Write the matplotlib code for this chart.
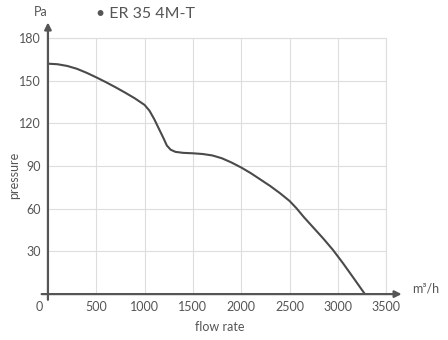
import matplotlib.pyplot as plt

plt.rcParams['font.family'] = ['Lato', 'DejaVu Sans']

flow = [0, 100, 200, 300, 400, 500, 600, 700, 800, 900, 1000, 1050, 1100,
        1150, 1200, 1230, 1270, 1320, 1400, 1500, 1600, 1700, 1800, 1900,
        2000, 2100, 2200, 2300, 2400, 2500, 2570, 2650, 2750, 2850, 2950,
        3050, 3150, 3280]
pressure = [162, 161.6, 160.4, 158.4, 155.6, 152.4, 149, 145.4, 141.6, 137.6,
            133, 129, 123, 116, 109, 104.5, 101.5, 100, 99.3, 99, 98.5, 97.5,
            95.5, 92.5, 89, 85, 80.5, 76, 71, 65.5, 60.5, 54, 46.5, 39, 31,
            22, 12.5, 0]
xticks = [0, 500, 1000, 1500, 2000, 2500, 3000, 3500]
xlabels = ['', '500', '1000', '1500', '2000', '2500', '3000', '3500']
yticks = [30, 60, 90, 120, 150, 180]

fig = plt.figure(figsize=(4.48, 3.4), dpi=100)
ax = fig.add_axes([0.107, 0.135, 0.755, 0.753])

grey = '#555555'
ax.plot(flow, pressure, color='#4a4a4a', lw=1.5, solid_capstyle='round',
        solid_joinstyle='round')

ax.set_xlim(0, 3500)
ax.set_ylim(0, 180)
ax.set_xticks(xticks)
ax.set_xticklabels(xlabels)
ax.set_yticks(yticks)
ax.grid(True, color='#dddddd', lw=0.8)
ax.set_axisbelow(True)
for s in ['left', 'bottom']:
    ax.spines[s].set_visible(False)
for s in ['top', 'right']:
    ax.spines[s].set_color('#dddddd')
    ax.spines[s].set_linewidth(0.8)
ax.tick_params(length=0, colors=grey, labelsize=9, pad=5)

# origin label sits a little left of the axis
ax.annotate('0', xy=(0, 0), xytext=(-6, -5), textcoords='offset points',
            ha='center', va='top', color=grey, fontsize=9,
            annotation_clip=False)

# axes with arrows
ax.annotate('', xy=(3660, 0), xytext=(-65, 0), annotation_clip=False,
            arrowprops=dict(arrowstyle='-|>', color=grey, lw=1.6,
                            mutation_scale=10, shrinkA=0, shrinkB=0))
ax.annotate('', xy=(0, 191), xytext=(0, -4), annotation_clip=False,
            arrowprops=dict(arrowstyle='-|>', color=grey, lw=1.6,
                            mutation_scale=10, shrinkA=0, shrinkB=0))

fig.text(0.092, 0.965, 'Pa', ha='center', va='center', color=grey, fontsize=9)
fig.text(0.95, 0.152, 'm³/h', ha='center', va='center', color=grey, fontsize=9)
fig.text(0.215, 0.958, '• ER 35 4M-T', ha='left', va='center', color=grey,
         fontsize=11.5)
fig.text(0.031, 0.485, 'pressure', rotation=90, ha='center', va='center',
         color=grey, fontsize=9)
fig.text(0.49, 0.038, 'flow rate', ha='center', va='center', color=grey,
         fontsize=9)

plt.savefig('out.png', dpi=100)
